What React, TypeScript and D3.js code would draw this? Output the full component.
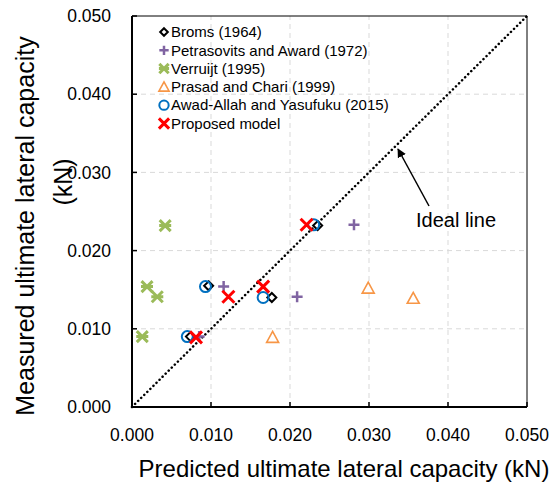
import React from "react";
import * as d3 from "d3";

const xTicks = [0, 0.01, 0.02, 0.03, 0.04, 0.05];
const yTicks = [0, 0.01, 0.02, 0.03, 0.04, 0.05];

const bromsX = [0.0235, 0.0177, 0.0097, 0.0074];
const bromsY = [0.0232, 0.014, 0.0155, 0.009];
const petraX = [0.0281, 0.0116, 0.0209, 0.0085];
const petraY = [0.0233, 0.0154, 0.0141, 0.009];
const verrX = [0.0042, 0.0019, 0.0032, 0.0013];
const verrY = [0.0232, 0.0154, 0.0141, 0.009];
const prasadX = [0.0299, 0.0356, 0.0178];
const prasadY = [0.0152, 0.0139, 0.0089];
const awadX = [0.023, 0.0093, 0.0166, 0.007];
const awadY = [0.0233, 0.0154, 0.014, 0.009];
const propX = [0.0221, 0.0166, 0.0122, 0.0081];
const propY = [0.0233, 0.0154, 0.0141, 0.0089];

const legendLabels = [
  "Broms (1964)",
  "Petrasovits and Award (1972)",
  "Verruijt (1995)",
  "Prasad and Chari (1999)",
  "Awad-Allah and Yasufuku (2015)",
  "Proposed model",
];

const C = {
  black: "#000000",
  purple: "#8064A2",
  green: "#9BBB59",
  orange: "#F79646",
  blue: "#0070C0",
  red: "#FF0000",
};

type Kind = "diamond" | "plus" | "star" | "tri" | "circle" | "x";

function Marker({ kind, x, y, s = 1 }: { kind: Kind; x: number; y: number; s?: number }) {
  switch (kind) {
    case "diamond":
      return (
        <path
          d={`M${x},${y - 4.5 * s}L${x + 4.5 * s},${y}L${x},${y + 4.5 * s}L${x - 4.5 * s},${y}Z`}
          fill="#fff"
          stroke={C.black}
          strokeWidth={2}
        />
      );
    case "plus":
      return (
        <path
          d={`M${x - 5.5 * s},${y}H${x + 5.5 * s}M${x},${y - 5.5 * s}V${y + 5.5 * s}`}
          stroke={C.purple}
          strokeWidth={2.5}
          fill="none"
        />
      );
    case "star":
      return (
        <path
          d={`M${x - 5.5 * s},${y - 5.5 * s}L${x + 5.5 * s},${y + 5.5 * s}M${x - 5.5 * s},${y + 5.5 * s}L${x + 5.5 * s},${y - 5.5 * s}M${x - 6 * s},${y}H${x + 6 * s}`}
          stroke={C.green}
          strokeWidth={3}
          fill="none"
        />
      );
    case "tri":
      return (
        <path
          d={`M${x},${y - 6 * s}L${x + 6 * s},${y + 5 * s}L${x - 6 * s},${y + 5 * s}Z`}
          fill="#fff"
          stroke={C.orange}
          strokeWidth={1.6}
        />
      );
    case "circle":
      return <circle cx={x} cy={y} r={5.5 * s} fill="none" stroke={C.blue} strokeWidth={2} />;
    case "x":
      return (
        <path
          d={`M${x - 6 * s},${y - 6 * s}L${x + 6 * s},${y + 6 * s}M${x - 6 * s},${y + 6 * s}L${x + 6 * s},${y - 6 * s}`}
          stroke={C.red}
          strokeWidth={3}
          fill="none"
        />
      );
  }
  return null;
}

export default function App() {
  const W = 554;
  const H = 491;
  const x = d3.scaleLinear().domain([0, 0.05]).range([132, 527]);
  const y = d3.scaleLinear().domain([0, 0.05]).range([407, 16]);
  const fmt = d3.format(".3f");
  const font = "Liberation Sans, Arial, sans-serif";

  const series: { kind: Kind; xs: number[]; ys: number[] }[] = [
    { kind: "diamond", xs: bromsX, ys: bromsY },
    { kind: "plus", xs: petraX, ys: petraY },
    { kind: "star", xs: verrX, ys: verrY },
    { kind: "tri", xs: prasadX, ys: prasadY },
    { kind: "circle", xs: awadX, ys: awadY },
    { kind: "x", xs: propX, ys: propY },
  ];
  const legendKinds: Kind[] = ["diamond", "plus", "star", "tri", "circle", "x"];

  return (
    <svg
      width={W}
      height={H}
      style={{ position: "absolute", left: 0, top: 0, background: "#fff" }}
      fontFamily={font}
    >
      {/* gridlines */}
      {xTicks.slice(1, -1).map((t) => (
        <line key={"gx" + t} x1={x(t)} x2={x(t)} y1={y(0)} y2={y(0.05)} stroke="#d9d9d9" strokeDasharray="5,4" />
      ))}
      {yTicks.slice(1, -1).map((t) => (
        <line key={"gy" + t} x1={x(0)} x2={x(0.05)} y1={y(t)} y2={y(t)} stroke="#d9d9d9" strokeDasharray="5,4" />
      ))}
      {/* frame */}
      <line x1={x(0)} x2={x(0.05)} y1={y(0.05)} y2={y(0.05)} stroke="#000" strokeWidth={1} />
      <line x1={x(0.05)} x2={x(0.05)} y1={y(0.05)} y2={y(0)} stroke="#000" strokeWidth={1} />
      {/* ideal line */}
      <line
        x1={x(0)}
        y1={y(0)}
        x2={x(0.05)}
        y2={y(0.05)}
        stroke="#000"
        strokeWidth={2.5}
        strokeDasharray="0.1,4.2"
        strokeLinecap="round"
      />
      {/* points */}
      {series.map((s, si) =>
        s.xs.map((v, i) => <Marker key={si + "-" + i} kind={s.kind} x={x(v)} y={y(s.ys[i])} />)
      )}
      {/* axes */}
      <line x1={x(0)} x2={x(0)} y1={y(0) + 1} y2={y(0.05)} stroke="#000" strokeWidth={2} />
      <line x1={x(0) - 1} x2={x(0.05)} y1={y(0)} y2={y(0)} stroke="#000" strokeWidth={2} />
      {xTicks.map((t) => (
        <g key={"xt" + t}>
          <line x1={x(t)} x2={x(t)} y1={y(0)} y2={y(0) - 5} stroke="#000" strokeWidth={1.5} />
          <text x={x(t)} y={y(0) + 34} textAnchor="middle" fontSize={17.5} fill="#000">
            {fmt(t)}
          </text>
        </g>
      ))}
      {yTicks.map((t) => (
        <g key={"yt" + t}>
          <line x1={x(0)} x2={x(0) + 5} y1={y(t)} y2={y(t)} stroke="#000" strokeWidth={1.5} />
          <text x={111} y={y(t)} dy="0.35em" textAnchor="end" fontSize={17.5} fill="#000">
            {fmt(t)}
          </text>
        </g>
      ))}
      {/* legend */}
      {legendLabels.map((l, i) => (
        <g key={l}>
          <Marker kind={legendKinds[i]} x={164} y={32 + i * 18.3} s={0.85} />
          <text x={171} y={32 + i * 18.3} dy="0.35em" fontSize={15} fill="#000">
            {l}
          </text>
        </g>
      ))}
      {/* annotation */}
      <defs>
        <marker id="ah" viewBox="0 0 10 10" refX={9} refY={5} markerWidth={6} markerHeight={6} orient="auto">
          <path d="M0,0L10,5L0,10Z" fill="#000" />
        </marker>
      </defs>
      <line x1={429} y1={206} x2={398} y2={149} stroke="#000" strokeWidth={1.5} markerEnd="url(#ah)" />
      <text x={416} y={227} fontSize={20} fill="#000">
        Ideal line
      </text>
      {/* axis titles */}
      <text x={344} y={477} textAnchor="middle" fontSize={24} fill="#000">
        Predicted ultimate lateral capacity (kN)
      </text>
      <text transform="translate(34,226) rotate(-90)" textAnchor="middle" fontSize={25} fill="#000">
        Measured ultimate lateral capacity
      </text>
      <text transform="translate(72,182) rotate(-90)" textAnchor="middle" fontSize={25} fill="#000">
        (kN)
      </text>
    </svg>
  );
}
